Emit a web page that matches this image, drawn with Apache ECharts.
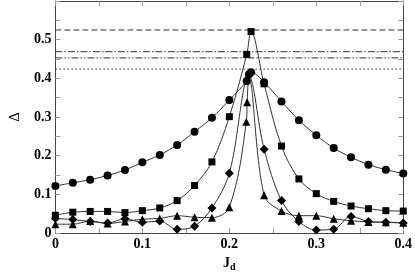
<!DOCTYPE html>
<html><head><meta charset="utf-8">
<script src="https://cdn.jsdelivr.net/npm/echarts@6/dist/echarts.min.js"></script>
<style>html,body{margin:0;padding:0;background:#fff}#c{width:415px;height:277px}</style>
</head><body><div id="c"></div>
<script>
// x tick labels / y tick labels
const xTicks = [0, 0.1, 0.2, 0.3, 0.4];
const yTicks = [0, 0.1, 0.2, 0.3, 0.4, 0.5];
// series: [Jd, Delta]
const circles = [[0,0.122],[0.02,0.130],[0.04,0.138],[0.06,0.149],[0.08,0.163],[0.1,0.183],[0.12,0.202],[0.14,0.228],[0.16,0.262],[0.18,0.298],[0.2,0.344],[0.22,0.393],[0.2225,0.410],[0.225,0.416],[0.24,0.390],[0.26,0.340],[0.28,0.292],[0.30,0.253],[0.32,0.220],[0.34,0.196],[0.36,0.177],[0.38,0.164],[0.40,0.154]];
const squares = [[0,0.046],[0.02,0.054],[0.04,0.056],[0.06,0.056],[0.08,0.053],[0.1,0.058],[0.12,0.065],[0.14,0.084],[0.16,0.123],[0.18,0.184],[0.2,0.301],[0.22,0.462],[0.225,0.521],[0.24,0.386],[0.26,0.225],[0.28,0.140],[0.30,0.102],[0.32,0.082],[0.34,0.070],[0.36,0.063],[0.38,0.058],[0.40,0.057]];
const diamonds = [[0,0.038],[0.02,0.035],[0.04,0.030],[0.06,0.026],[0.08,0.037],[0.1,0.028],[0.12,0.031],[0.14,0.010],[0.16,0.018],[0.18,0.065],[0.2,0.155],[0.2225,0.405],[0.24,0.217],[0.26,0.084],[0.28,0.030],[0.30,0.008],[0.32,0.010],[0.34,0.043],[0.36,0.030],[0.38,0.028],[0.40,0.026]];
const triangles = [[0,0.023],[0.02,0.023],[0.04,0.031],[0.06,0.025],[0.08,0.030],[0.1,0.036],[0.12,0.038],[0.14,0.045],[0.16,0.041],[0.18,0.040],[0.2,0.067],[0.2195,0.288],[0.2205,0.338],[0.2225,0.400],[0.24,0.098],[0.26,0.057],[0.28,0.045],[0.30,0.045],[0.32,0.037],[0.34,0.032],[0.36,0.029],[0.38,0.028],[0.40,0.027]];
const hiddenPeaks = [0.2225]; // peak points hidden behind circle cluster (no marker)
const refLevels = [0.525, 0.469, 0.453, 0.424];
const refDash = [[6,3],[7,2,1.5,2],[7,2,1.5,2,1.5,2],[1.5,2.5]];

const chart = echarts.init(document.getElementById('c'), null, {renderer:'canvas'});
const fontFam = 'Liberation Serif';
function mk(arr, hideX){
  return arr.map(p => (hideX && hideX.includes(p[0])) ? {value:p, symbol:'none'} : {value:p});
}
const lineCol = '#333';
const baseSeries = (name, data, sym, size, hide, z) => ({
  name, type:'line', data: mk(data, hide), symbol: sym, symbolSize: size,
  smooth: 0.35, z,
  lineStyle:{color:lineCol, width:1}, itemStyle:{color:'#000'}, animation:false
});
const series = [];
refLevels.forEach((v,i)=>{
  series.push({type:'line', data:[[0,v],[0.4,v]], symbol:'none', z:1,
    lineStyle:{color:'#333', width:1, type: refDash[i]}, animation:false});
});
series.push(baseSeries('tri', triangles, 'triangle', 8, hiddenPeaks, 2));
series.push(baseSeries('dia', diamonds, 'diamond', 9, hiddenPeaks, 3));
series.push(baseSeries('sq', squares, 'rect', 7, null, 4));
series.push(baseSeries('circ', circles, 'circle', 8, null, 5));

const axisLab = {fontFamily:fontFam, fontWeight:'bold', fontSize:14, color:'#000'};
chart.setOption({
  animation:false,
  grid:{left:37, right:10, top:1, bottom:34},
  xAxis:[{
    type:'value', min:0, max:0.4, interval:0.1,
    axisLine:{onZero:false, lineStyle:{color:'#444', width:1}},
    axisTick:{inside:true, length:5, lineStyle:{color:'#999'}},
    minorTick:{show:true, splitNumber:2, length:5, lineStyle:{color:'#999'}},
    splitLine:{show:false},
    axisLabel:{...axisLab, margin:4, formatter: v => xTicks.includes(Math.round(v*10)/10) ? String(Math.round(v*10)/10) : ''},
    name:'{b|J}{s|d}', nameLocation:'middle', nameGap:20,
    nameTextStyle:{rich:{b:{fontFamily:fontFam, fontWeight:'bold', fontSize:14, color:'#000'}, s:{fontFamily:fontFam, fontWeight:'bold', fontSize:10, color:'#000', padding:[8,0,0,0]}}}
  },{
    type:'value', min:0, max:0.4, interval:0.1, position:'top',
    axisLine:{onZero:false, lineStyle:{color:'#444'}},
    axisTick:{inside:true, length:5, lineStyle:{color:'#999'}},
    minorTick:{show:true, splitNumber:2, length:5, lineStyle:{color:'#999'}},
    axisLabel:{show:false}, splitLine:{show:false}
  }],
  yAxis:[{
    type:'value', min:0, max:0.6, interval:0.1,
    axisLine:{onZero:false, lineStyle:{color:'#444'}},
    axisTick:{inside:true, length:5, lineStyle:{color:'#999'}},
    minorTick:{show:true, splitNumber:2, length:5, lineStyle:{color:'#999'}},
    splitLine:{show:false},
    axisLabel:{...axisLab, margin:4, formatter: v => { const r = Math.round(v*10)/10; return yTicks.includes(r) ? String(r) : ''; }},
    name:'Δ', nameLocation:'middle', nameGap:27, nameRotate:90,
    nameTextStyle:{fontFamily:fontFam, fontSize:15, color:'#000'}
  },{
    type:'value', min:0, max:0.6, interval:0.1, position:'right',
    axisLine:{show:true, onZero:false, lineStyle:{color:'#444'}},
    axisTick:{show:true, inside:true, length:5, lineStyle:{color:'#999'}},
    minorTick:{show:true, splitNumber:2, length:5, lineStyle:{color:'#999'}},
    axisLabel:{show:false}, splitLine:{show:false}
  }],
  series
});
</script></body></html>
